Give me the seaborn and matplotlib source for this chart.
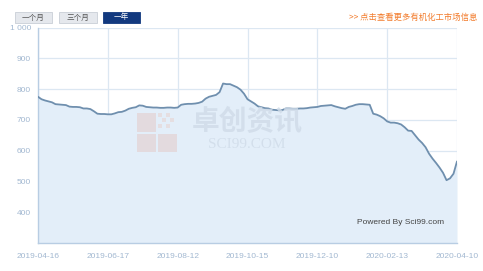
import numpy as np
import pandas as pd
import matplotlib
matplotlib.use("Agg")
import matplotlib.pyplot as plt
from matplotlib.patches import Rectangle
import seaborn as sns

# ---- data ----
values = [775, 767, 763, 760, 757, 751, 750, 749, 748, 743,
          742, 742, 741, 737, 737, 735, 728, 720, 719, 719,
          718, 718, 721, 725, 726, 730, 736, 739, 741, 747,
          746, 742, 741, 740, 740, 739, 739, 740, 740, 739,
          740, 749, 751, 752, 752, 753, 755, 759, 769, 775,
          778, 781, 790, 818, 816, 816, 811, 806, 798, 785,
          767, 760, 753, 744, 741, 738, 737, 733, 732, 731,
          732, 737, 737, 736, 736, 737, 737, 738, 740, 741,
          742, 745, 746, 747, 748, 744, 741, 738, 736, 742,
          745, 749, 751, 751, 750, 749, 720, 717, 712, 705,
          695, 691, 691, 689, 685, 676, 665, 664, 650, 636,
          625, 611, 590, 574, 560, 545, 528, 504, 510, 525,
          565]
date_labels = ["2019-04-16", "2019-06-17", "2019-08-12", "2019-10-15",
               "2019-12-10", "2020-02-13", "2020-04-10"]
y_ticks = [400, 500, 600, 700, 800, 900, 1000]
y_tick_labels = ["400", "500", "600", "700", "800", "900", "1 000"]
buttons = ["一个月", "三个月", "一年"]
link_text = ">> 点击查看更多有机化工市场信息"

df = pd.DataFrame({"idx": np.arange(len(values)), "price": values})
tick_idx = np.linspace(0, len(values) - 1, len(date_labels))

sns.set_theme(style="white")
plt.rcParams['font.family'] = ['Liberation Sans', 'Noto Sans CJK SC', 'DejaVu Sans']

fig = plt.figure(figsize=(4.83, 2.71), dpi=100)
fig.patch.set_facecolor("white")
ax = fig.add_axes([38/483, 1 - 243/271, (457 - 38)/483, (243 - 27.5)/271])
ax.set_facecolor("white")

grid_c = "#dce7f2"
ax.set_xlim(0, len(values) - 1)
ax.set_ylim(300, 1000)
ax.set_xticks(tick_idx)
ax.set_xticklabels(date_labels)
ax.set_yticks(y_ticks)
ax.set_yticklabels(y_tick_labels)
ax.grid(True, color=grid_c, linewidth=0.9)
ax.set_axisbelow(True)

ax.fill_between(df["idx"], df["price"], 300, color="#e3eef9", zorder=1, linewidth=0)
sns.lineplot(data=df, x="idx", y="price", ax=ax, color="#6f8fae", linewidth=1.3, zorder=3)
ax.set_xlabel("")
ax.set_ylabel("")

for s in ["top", "right"]:
    ax.spines[s].set_visible(False)
for s in ["left", "bottom"]:
    ax.spines[s].set_color("#b8cde3")
    ax.spines[s].set_linewidth(1.0)
ax.tick_params(axis="both", colors="#b8cde3", labelcolor="#a2b8d1", labelsize=6,
               length=3, width=0.8, pad=2)
ax.tick_params(axis="x", pad=4)

# watermark
fig.text(247/483, 1 - 122/271, "卓创资讯", fontsize=20, fontweight="bold",
         color="#cfdbe8", alpha=0.8, ha="center", va="center",
         family=['Noto Sans CJK SC', 'DejaVu Sans'], zorder=2)
fig.text(247/483, 1 - 145/271, "SCI99.COM", fontsize=11,
         color="#cfdbe8", alpha=0.8, ha="center", va="center",
         family=['Liberation Serif', 'DejaVu Serif'], zorder=2)
for (x0, y0, w, h) in [(137, 113, 19, 19), (137, 134, 19, 18), (158, 134, 19, 18)]:
    fig.patches.append(Rectangle((x0/483, 1 - (y0 + h)/271), w/483, h/271,
                                 transform=fig.transFigure, facecolor="#e3d6d8",
                                 edgecolor="none", alpha=0.8, zorder=2))
for (x0, y0) in [(158, 113), (166, 113), (162, 118), (170, 118), (158, 124), (166, 124)]:
    fig.patches.append(Rectangle((x0/483, 1 - (y0 + 4)/271), 4/483, 4/271,
                                 transform=fig.transFigure, facecolor="#e6dadc",
                                 edgecolor="none", alpha=0.8, zorder=2))

fig.text(357/483, 1 - 222/271, "Powered By Sci99.com", fontsize=6, color="#444444",
         ha="left", va="center")

# buttons
btn_pos = [(15, 52), (59, 97), (103, 140)]
for i, (lab, (x0, x1)) in enumerate(zip(buttons, btn_pos)):
    active = i == 2
    fig.patches.append(Rectangle((x0/483, 1 - 22.5/271), (x1 - x0)/483, 10/271,
                                 transform=fig.transFigure,
                                 facecolor="#12397f" if active else "#e5e8ed",
                                 edgecolor="#12397f" if active else "#c9ced6",
                                 linewidth=0.6))
    fig.text((x0 + x1)/2/483, 1 - 17.5/271, lab, fontsize=5.5,
             color="white" if active else "#555555", ha="center", va="center",
             family=['Noto Sans CJK SC', 'DejaVu Sans'])

fig.text(477/483, 1 - 17/271, link_text, fontsize=6, color="#f27b2b",
         ha="right", va="center", family=['Noto Sans CJK SC', 'DejaVu Sans'])

fig.savefig("out.png", dpi=100)
